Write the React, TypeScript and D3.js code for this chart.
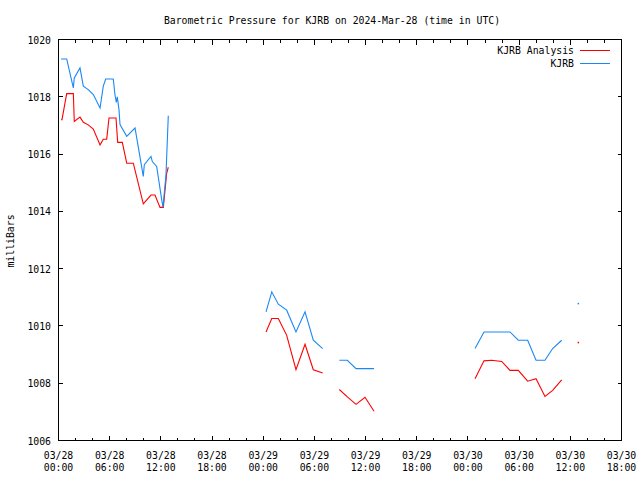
import React from "react";
import * as d3 from "d3";

// hours since 2024-03-28 00:00 UTC; null pressure = gap in the record
const blueHours = [0.29, 0.96, 1.74, 1.85, 2.52, 2.91, 3.49, 4.08, 4.87, 5.25, 5.53, 6.42, 6.62, 6.78, 6.89, 7.09, 7.21, 8.0, 8.97, 9.94, 10.06, 10.84, 11.0, 11.51, 12.1, 12.25, 12.6, 12.87,
  18,
  24.33, 25.0, 25.77, 26.75, 27.84, 28.9, 29.87, 30.97,
  32,
  32.92, 33.86, 34.88, 36.99,
  42,
  48.83, 49.88, 52.93, 53.9, 55.0, 55.98, 57.03, 57.93, 58.99,
  60,
  60.94];
const bluePressure = [1019.32, 1019.32, 1018.31, 1018.66, 1019.01, 1018.37, 1018.25, 1018.08, 1017.61, 1018.37, 1018.62, 1018.62, 1018.07, 1017.8, 1018.0, 1017.55, 1017.03, 1016.62, 1016.91, 1015.22, 1015.63, 1015.92, 1015.74, 1015.57, 1014.4, 1014.15, 1015.27, 1017.34,
  null,
  1010.49, 1011.19, 1010.76, 1010.55, 1009.79, 1010.49, 1009.5, 1009.21,
  null,
  1008.8, 1008.8, 1008.51, 1008.51,
  null,
  1009.21, 1009.79, 1009.79, 1009.5, 1009.5, 1008.8, 1008.8, 1009.21, 1009.5,
  null,
  1010.78];

const redHours = [0.29, 0.41, 0.96, 1.74, 1.85, 2.52, 2.91, 3.49, 4.08, 4.87, 5.25, 5.65, 5.92, 6.74, 6.94, 7.48, 8.0, 8.77, 9.94, 10.84, 11.31, 11.9, 12.29, 12.49, 12.68, 12.87,
  18,
  24.33, 25.0, 25.77, 26.75, 27.84, 28.9, 29.87, 30.97,
  32,
  32.92, 33.86, 34.88, 35.93, 36.99,
  42,
  48.83, 49.88, 50.78, 51.96, 52.93, 53.9, 55.0, 55.98, 57.03, 57.93, 58.99,
  60,
  60.94];
const redPressure = [1017.2, 1017.2, 1018.11, 1018.11, 1017.14, 1017.29, 1017.11, 1017.02, 1016.87, 1016.32, 1016.52, 1016.52, 1017.26, 1017.26, 1016.41, 1016.41, 1015.68, 1015.68, 1014.26, 1014.57, 1014.57, 1014.14, 1014.14, 1014.75, 1015.33, 1015.54,
  null,
  1009.79, 1010.26, 1010.26, 1009.67, 1008.47, 1009.36, 1008.47, 1008.36,
  null,
  1007.78, 1007.52, 1007.26, 1007.51, 1007.02,
  null,
  1008.16, 1008.78, 1008.8, 1008.76, 1008.45, 1008.45, 1008.07, 1008.16, 1007.54, 1007.75, 1008.12,
  null,
  1009.42];

const xTickHours = [0, 6, 12, 18, 24, 30, 36, 42, 48, 54, 60, 66];
const xTickDates = ["03/28", "03/28", "03/28", "03/28", "03/29", "03/29", "03/29", "03/29", "03/30", "03/30", "03/30", "03/30"];
const xTickTimes = ["00:00", "06:00", "12:00", "18:00", "00:00", "06:00", "12:00", "18:00", "00:00", "06:00", "12:00", "18:00"];
const xMinorHours = d3.range(0, 67, 2);
const yTicks = [1006, 1008, 1010, 1012, 1014, 1016, 1018, 1020];

const seriesNames = ["KJRB Analysis", "KJRB"];
const seriesColors = ["#ff0000", "#1a88f5"];

const W = 640, H = 480;
const FONT = "'DejaVu Sans Mono', 'Liberation Mono', monospace";

type Pt = { t: number; p: number | null };

function segments(hours: number[], vals: (number | null)[]): Pt[][] {
  const segs: Pt[][] = [];
  let cur: Pt[] = [];
  hours.forEach((t, i) => {
    const p = vals[i];
    if (p == null) {
      if (cur.length) segs.push(cur);
      cur = [];
    } else cur.push({ t, p });
  });
  if (cur.length) segs.push(cur);
  return segs;
}

export default function App() {
  const x = d3.scaleLinear().domain([0, 66]).range([58.5, 621.5]);
  const y = d3.scaleLinear().domain([1006, 1020]).range([440.5, 39.5]);
  const line = d3.line<Pt>().x(d => x(d.t)).y(d => y(d.p as number));

  const series = [
    segments(redHours, redPressure),
    segments(blueHours, bluePressure),
  ];

  const left = x(0), right = x(66), top = y(1020), bottom = y(1006);

  return (
    <svg width={W} height={H} style={{ position: "absolute", left: 0, top: 0, display: "block", background: "#fff" }}>
      <rect x={0} y={0} width={W} height={H} fill="#fff" />
      <text x={332} y={24} textAnchor="middle" fontFamily={FONT} fontSize={9.8} fill="#000">
        Barometric Pressure for KJRB on 2024-Mar-28 (time in UTC)
      </text>
      <g shapeRendering="crispEdges" stroke="#000" strokeWidth={1}>
        {yTicks.map(v => (
          <g key={"yt" + v}>
            <line x1={left} x2={left + 4} y1={y(v)} y2={y(v)} />
            <line x1={right} x2={right - 4} y1={y(v)} y2={y(v)} />
          </g>
        ))}
        {xMinorHours.map(h => {
          const major = h % 6 === 0;
          const len = major ? 5 : 3;
          return (
            <g key={"xt" + h}>
              <line x1={x(h)} x2={x(h)} y1={bottom} y2={bottom - len} />
              <line x1={x(h)} x2={x(h)} y1={top} y2={top + len} />
            </g>
          );
        })}
        <rect x={left} y={top} width={right - left} height={bottom - top} fill="none" />
      </g>
      <g fontFamily={FONT} fontSize={9.8} fill="#000">
        {yTicks.map(v => (
          <text key={"yl" + v} x={51} y={y(v) + 4} textAnchor="end">{v}</text>
        ))}
        {xTickHours.map((h, i) => (
          <text key={"xl" + h} x={x(h)} textAnchor="middle">
            <tspan x={x(h)} y={459}>{xTickDates[i]}</tspan>
            <tspan x={x(h)} y={471}>{xTickTimes[i]}</tspan>
          </text>
        ))}
        <text transform="translate(14,241) rotate(-90)" textAnchor="middle">milliBars</text>
      </g>
      {series.map((segs, si) => (
        <g key={"s" + si}>
          {segs.map((seg, k) =>
            seg.length > 1 ? (
              <path key={k} d={line(seg) || ""} fill="none" stroke={seriesColors[si]} strokeWidth={1.1} />
            ) : (
              <rect key={k} x={x(seg[0].t) - 0.75} y={y(seg[0].p as number) - 0.75} width={1.5} height={1.5} fill={seriesColors[si]} />
            )
          )}
        </g>
      ))}
      <g fontFamily={FONT} fontSize={9.8}>
        {seriesNames.map((name, i) => (
          <g key={"lg" + i}>
            <text x={574} y={53.5 + i * 13} textAnchor="end" fill="#000">{name}</text>
            <line x1={580} x2={610} y1={50.5 + i * 13} y2={50.5 + i * 13} stroke={seriesColors[i]} strokeWidth={1} shapeRendering="crispEdges" />
          </g>
        ))}
      </g>
    </svg>
  );
}
